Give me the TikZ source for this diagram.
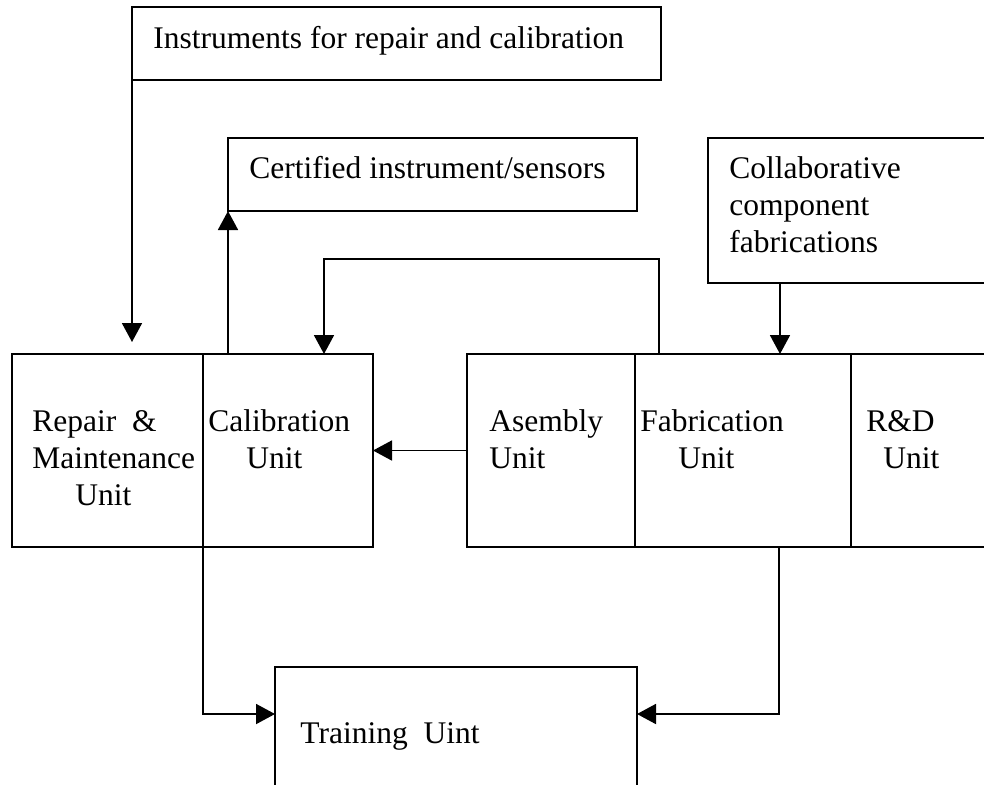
\documentclass[tikz,border=0pt]{standalone}
\usepackage{fontspec}
\setmainfont{Liberation Serif}
\usepackage{tikz}
\usetikzlibrary{arrows.meta,positioning,calc}
\tikzset{
  unitbox/.style={draw,line width=0.9pt,inner sep=0pt,outer sep=0pt,anchor=north west},
  boxlabel/.style={anchor=north west,inner sep=0pt,align=left,
    font=\fontsize{15.75}{18.4}\selectfont},
  flow/.style={-{Triangle[length=9.5pt,width=10pt]},line width=0.9pt}
}

\begin{document}
\begin{tikzpicture}[x=0.5pt,y=-0.5pt]
  \useasboundingbox (0,0) rectangle (984,784);
  \clip (0,0) rectangle (984,784);
  % boxes
  \node[unitbox,minimum width=264.5pt,minimum height=36.5pt] (instr) at (132,7) {};
  \node[unitbox,minimum width=204.5pt,minimum height=36.5pt] (cert) at (228,138) {};
  \node[unitbox,minimum width=146pt,minimum height=72.5pt] (collab) at (708,138) {};
  \node[unitbox,minimum width=95.5pt,minimum height=96.5pt] (repair) at (12,354) {};
  \node[unitbox,minimum width=85pt,minimum height=96.5pt] (calib) at (203,354) {};
  \node[unitbox,minimum width=84pt,minimum height=96.5pt] (asm) at (467,354) {};
  \node[unitbox,minimum width=108pt,minimum height=96.5pt] (fab) at (635,354) {};
  \node[unitbox,minimum width=74.5pt,minimum height=96.5pt] (rnd) at (851,354) {};
  \node[unitbox,minimum width=181pt,minimum height=70pt] (train) at (275,667) {};
  % texts
  \node[boxlabel] (instr-t) at (153,22.4) {\strut Instruments for repair and calibration};
  \node[boxlabel] (cert-t) at (249,152.4) {\strut Certified instrument/sensors};
  \node[boxlabel] (collab-t) at (729,152.4) {\strut Collaborative\\component\\fabrications};
  \node[boxlabel] (repair-t) at (32,405.4) {\strut Repair\ \ \&\\Maintenance\\\hspace*{21.5pt}Unit};
  \node[boxlabel] (calib-t) at (208,405.4) {\strut Calibration\\\hspace*{19pt}Unit};
  \node[boxlabel] (asm-t) at (489,405.4) {\strut Asembly\\Unit};
  \node[boxlabel] (fab-t) at (640,405.4) {\strut Fabrication\\\hspace*{19pt}Unit};
  \node[boxlabel] (rnd-t) at (866,405.4) {\strut R\&D\\\hspace*{8.5pt}Unit};
  \node[boxlabel] (train-t) at (300,717.4) {\strut Training\ \ Uint};
  % connectors
  \coordinate (fab-out) at ($(fab.north west)+(24,0)$);
  \coordinate (calib-in) at ($(calib.north east)+(-49,0)$);
  \coordinate (collab-out) at ($(collab.south west)+(72,0)$);
  \coordinate (fab-down) at ($(fab.south west)+(144,0)$);
  \coordinate (train-in) at ($(train.north west)+(0,47)$);
  \draw[flow,shorten >=6pt] (instr.south west) -- (instr.south west |- repair.north);
  \draw[flow] (cert.south west |- calib.north) -- (cert.south west);
  \draw[flow] (fab-out) -- ++(0,-95) -| (calib-in);
  \draw[flow] (asm.west) -- (calib.east);
  \draw[flow] (collab-out) -- (collab-out |- fab.north);
  \draw[flow] (calib.south west) |- (train-in);
  \draw[flow] (fab-down) |- (train-in -| train.east);
\end{tikzpicture}
\end{document}
